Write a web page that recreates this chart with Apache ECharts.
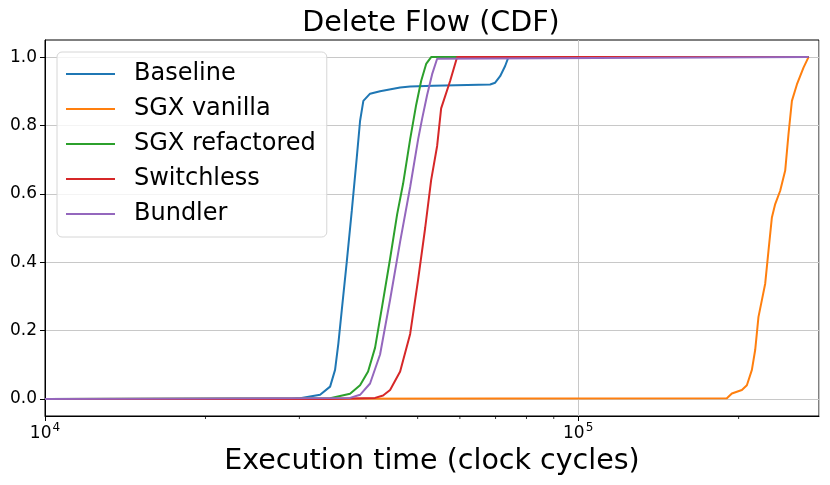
<!DOCTYPE html>
<html>
<head>
<meta charset="utf-8">
<script src="https://cdn.jsdelivr.net/npm/echarts@6/dist/echarts.min.js"></script>
<style>
  html, body { margin: 0; padding: 0; background: #fff; }
  #chart { width: 830px; height: 485px; }
</style>
</head>
<body>
<div id="chart"></div>
<script>
// data (x = clock cycles, y = cumulative fraction)
const seriesNames = ['Baseline', 'SGX vanilla', 'SGX refactored', 'Switchless', 'Bundler']
const colors = ['#1f77b4', '#ff7f0e', '#2ca02c', '#d62728', '#9467bd']

const baseline = [
  [10000, 0], [29000, 0], [30090, 0.002], [32810, 0.012], [34260, 0.036], [35000, 0.085],
  [35500, 0.162], [36030, 0.26], [36810, 0.40], [37620, 0.55], [38440, 0.706], [38990, 0.813],
  [39550, 0.872], [40710, 0.893], [42510, 0.90], [46360, 0.911], [48410, 0.914], [53460, 0.916],
  [68380, 0.920], [69880, 0.925], [71400, 0.944], [72960, 0.974], [74010, 1.0], [270460, 1.0],
]
const sgxVanilla = [
  [10000, 0], [190100, 0.002], [194250, 0.016], [202830, 0.026], [207260, 0.04], [211790, 0.085],
  [214820, 0.143], [217900, 0.24], [221130, 0.289], [224310, 0.337], [227540, 0.434],
  [230900, 0.531], [234220, 0.57], [239330, 0.609], [244560, 0.668], [248080, 0.775],
  [251750, 0.872], [257240, 0.92], [264680, 0.969], [270460, 1.0],
]
const sgxRefactored = [
  [10000, 0], [34260, 0.002], [37340, 0.015], [38990, 0.04], [40365, 0.08], [41605, 0.15],
  [42880, 0.27], [44390, 0.41], [45760, 0.54], [46960, 0.63], [48410, 0.76], [49680, 0.86],
  [50760, 0.93], [51870, 0.98], [53000, 1.0], [270460, 1.0],
]
const switchless = [
  [10000, 0], [34260, 0], [41605, 0.003], [43065, 0.01], [44390, 0.026], [46360, 0.08],
  [48410, 0.19], [50110, 0.35], [51650, 0.5], [53000, 0.64], [54390, 0.74], [55340, 0.85],
  [57530, 0.93], [59300, 1.0], [270460, 1.0],
]
const bundler = [
  [10000, 0], [37340, 0.003], [38990, 0.012], [40710, 0.045], [42510, 0.13], [44390, 0.29],
  [46360, 0.46], [48410, 0.62], [50110, 0.76], [50980, 0.82], [52100, 0.89], [53230, 0.95],
  [54390, 0.995], [54860, 1.0], [270460, 1.0],
]
const seriesData = [baseline, sgxVanilla, sgxRefactored, switchless, bundler]

const yTickValues = [0, 0.2, 0.4, 0.6, 0.8, 1.0]
const minorTickValues = [20000, 30000, 40000, 50000, 60000, 70000, 80000, 90000, 200000]

const FONT = 'DejaVu Sans'

const chart = echarts.init(document.getElementById('chart'), null, { renderer: 'canvas' })

const lineSeries = seriesNames.map((name, i) => ({
  name,
  type: 'line',
  data: seriesData[i],
  showSymbol: false,
  symbol: 'none',
  smooth: false,
  lineStyle: { color: colors[i], width: 2 },
  itemStyle: { color: colors[i] },
  emphasis: { disabled: true },
  animation: false,
}))

// matplotlib-like minor ticks on the log axis
const minorTicks = {
  type: 'scatter',
  data: minorTickValues.map((v) => [v, -0.05]),
  symbol: 'rect',
  symbolSize: [1, 3],
  symbolOffset: [0, 1.5],
  itemStyle: { color: '#000' },
  clip: false,
  silent: true,
  animation: false,
}

const option = {
  backgroundColor: '#fff',
  animation: false,
  title: {
    text: 'Delete Flow (CDF)',
    left: 431,
    top: 9,
    textAlign: 'center',
    padding: 0,
    textStyle: { fontFamily: FONT, fontSize: 28.5, fontWeight: 'normal', color: '#000' },
  },
  legend: {
    data: seriesNames,
    orient: 'vertical',
    left: 57,
    top: 52,
    padding: [10, 11, 11, 9],
    itemGap: 11,
    itemWidth: 49,
    itemHeight: 2,
    icon: 'rect',
    backgroundColor: 'rgba(255,255,255,0.8)',
    borderColor: '#d6d6d6',
    borderWidth: 1,
    borderRadius: 5,
    textStyle: {
      fontFamily: FONT,
      fontSize: 24,
      color: '#000',
      lineHeight: 24,
      padding: [0, 0, 0, 14],
    },
  },
  grid: {
    left: 45,
    right: 11,
    top: 40,
    bottom: 69,
    show: true,
    borderColor: '#000',
    borderWidth: 1,
    backgroundColor: 'transparent',
  },
  xAxis: {
    type: 'log',
    logBase: 10,
    min: 10000,
    max: 283000,
    name: 'Execution time (clock cycles)',
    nameLocation: 'middle',
    nameGap: 25,
    nameTextStyle: { fontFamily: FONT, fontSize: 28.5, color: '#000' },
    axisLine: { show: true, onZero: false, lineStyle: { color: '#000', width: 1 } },
    axisTick: { show: true, length: 5, lineStyle: { color: '#000' } },
    minorTick: { show: false },
    axisLabel: {
      margin: 6,
      color: '#000',
      showMaxLabel: false,
      formatter: (v) => {
        const e = Math.log10(v)
        return Math.abs(e - Math.round(e)) < 1e-6 ? '{b|10}{s|' + Math.round(e) + '}' : ''
      },
      rich: {
        b: { fontFamily: FONT, fontSize: 17, color: '#000', lineHeight: 20, verticalAlign: 'bottom' },
        s: { fontFamily: FONT, fontSize: 12, color: '#000', lineHeight: 20, verticalAlign: 'top', padding: [0, 0, 0, 1] },
      },
    },
    splitLine: { show: true, lineStyle: { color: '#c8c8c8', width: 1 } },
  },
  yAxis: {
    type: 'value',
    min: -0.05,
    max: 1.05,
    axisLine: { show: true, onZero: false, lineStyle: { color: '#000', width: 1 } },
    axisTick: { show: true, length: 5, customValues: yTickValues, lineStyle: { color: '#000' } },
    axisLabel: {
      margin: 8,
      fontFamily: FONT,
      fontSize: 17,
      color: '#000',
      customValues: yTickValues,
      formatter: (v) => v.toFixed(1),
    },
    splitLine: { show: true, lineStyle: { color: '#c8c8c8', width: 1 } },
  },
  series: [...lineSeries, minorTicks],
}

chart.setOption(option)
</script>
</body>
</html>
